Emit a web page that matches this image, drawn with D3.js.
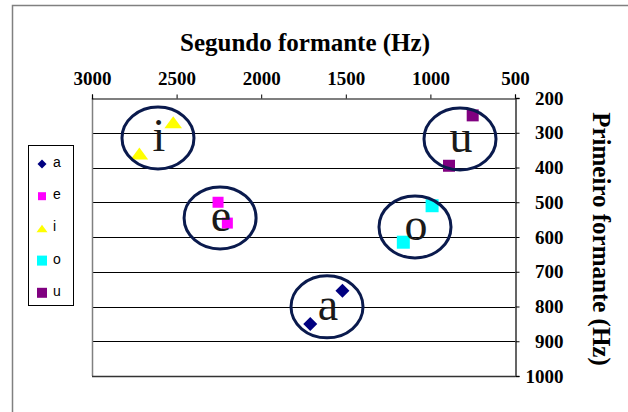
<!DOCTYPE html>
<html>
<head>
<meta charset="utf-8">
<script src="https://cdn.jsdelivr.net/npm/d3@7"></script>
<style>
  html, body { margin: 0; padding: 0; background: #fff; }
  svg { display: block; }
</style>
</head>
<body>
<svg id="chart" width="628" height="412"></svg>
<script>
// Vowel formant measurements (F2 = second formant, F1 = first formant), in Hz
const vowels = ["a", "e", "i", "o", "u"];
const vowelF2 = {
  a: [1710, 1520],
  e: [2255, 2200],
  i: [2720, 2520],
  o: [1160, 990],
  u: [890, 750]
};
const vowelF1 = {
  a: [850, 755],
  e: [500, 560],
  i: [360, 270],
  o: [615, 510],
  u: [395, 250]
};

// Ellipse annotations grouping each vowel's points (centre in Hz)
const groupF2 = [1611, 2243, 2610, 1091, 825];
const groupF1 = [801, 545, 315, 571, 318];
const groupLabel = ["a", "e", "i", "o", "u"];

const f2Ticks = [3000, 2500, 2000, 1500, 1000, 500];
const f1Ticks = [200, 300, 400, 500, 600, 700, 800, 900, 1000];

const colors = { a: "#000080", e: "#ff00ff", i: "#ffff00", o: "#00ffff", u: "#800080" };

// marker shapes: diamond = rotated square, flat triangle, plain squares
function marker(kind, s) {
  const h = s / 2;
  if (kind === "diamond") return `M0,${-h}L${h},0L0,${h}L${-h},0Z`;
  if (kind === "triangle") return `M0,${-h * 0.75}L${h * 1.1},${h * 0.75}L${-h * 1.1},${h * 0.75}Z`;
  return `M${-h},${-h}H${h}V${h}H${-h}Z`;
}
const kinds = { a: "diamond", e: "square", i: "triangle", o: "square", u: "square" };
const sizes = { a: 14, e: 11, i: 16, o: 13, u: 12 };
const legendSizes = { a: 9, e: 8, i: 10, o: 10, u: 10 };

const svg = d3.select("#chart");
const serif = "'Liberation Serif', 'Times New Roman', serif";
const sans = "'Liberation Sans', Arial, sans-serif";

// outer chart frame
svg.append("rect")
  .attr("x", 12.5).attr("y", 5.5)
  .attr("width", 640).attr("height", 440)
  .attr("fill", "none").attr("stroke", "#808080").attr("stroke-width", 1.5);

const plot = { left: 92, right: 515, top: 98, bottom: 376 };

const x = d3.scaleLinear().domain([3000, 500]).range([plot.left, plot.right]);
const y = d3.scaleLinear().domain([200, 1000]).range([plot.top, plot.bottom]);

// horizontal gridlines
svg.append("g")
  .selectAll("line")
  .data(f1Ticks.filter(v => v > 200 && v < 1000))
  .join("line")
  .attr("x1", plot.left).attr("x2", plot.right)
  .attr("y1", d => Math.round(y(d)) + 0.5).attr("y2", d => Math.round(y(d)) + 0.5)
  .attr("stroke", "#000").attr("stroke-width", 1);

// plot area left and bottom borders
svg.append("line")
  .attr("x1", plot.left + 0.5).attr("x2", plot.left + 0.5)
  .attr("y1", plot.top).attr("y2", plot.bottom)
  .attr("stroke", "#808080").attr("stroke-width", 1.5);
svg.append("line")
  .attr("x1", plot.left).attr("x2", plot.right)
  .attr("y1", plot.bottom + 0.5).attr("y2", plot.bottom + 0.5)
  .attr("stroke", "#333").attr("stroke-width", 1.5);

// top axis: second formant
const xAxis = d3.axisTop(x).tickValues(f2Ticks).tickSize(4).tickPadding(10).tickFormat(d3.format("d"));
const gx = svg.append("g").attr("transform", `translate(0,${plot.top + 0.5})`).call(xAxis);
gx.select(".domain").attr("stroke", "#000").attr("stroke-width", 1.2);
gx.selectAll(".tick line").attr("stroke", "#000");
gx.selectAll("text")
  .attr("font-family", serif).attr("font-weight", "bold").attr("font-size", 19).attr("fill", "#000");

// right axis: first formant
const yAxis = d3.axisRight(y).tickValues(f1Ticks).tickSize(4).tickPadding(0).tickFormat(d3.format("d"));
const gy = svg.append("g").attr("transform", `translate(${plot.right + 0.5},0)`).call(yAxis);
gy.select(".domain").attr("stroke", "#333").attr("stroke-width", 1.5);
gy.selectAll(".tick line").attr("stroke", "#000");
gy.selectAll("text")
  .attr("x", 48).attr("text-anchor", "end")
  .attr("font-family", serif).attr("font-weight", "bold").attr("font-size", 19).attr("fill", "#000");

// axis titles
svg.append("text")
  .attr("x", 305).attr("y", 51)
  .attr("text-anchor", "middle")
  .attr("font-family", serif).attr("font-weight", "bold").attr("font-size", 25)
  .text("Segundo formante (Hz)");
svg.append("text")
  .attr("transform", "translate(593,239) rotate(90)")
  .attr("text-anchor", "middle")
  .attr("font-family", serif).attr("font-weight", "bold").attr("font-size", 25)
  .text("Primeiro formante (Hz)");

// data points
vowels.forEach(v => {
  svg.append("g")
    .selectAll("path")
    .data(d3.zip(vowelF2[v], vowelF1[v]))
    .join("path")
    .attr("transform", d => `translate(${x(d[0])},${y(d[1])})`)
    .attr("d", marker(kinds[v], sizes[v]))
    .attr("fill", colors[v]);
});

// vowel letters and ellipses
const groups = d3.range(groupLabel.length).map(i => ({ f2: groupF2[i], f1: groupF1[i], label: groupLabel[i] }));
svg.append("g")
  .selectAll("text")
  .data(groups)
  .join("text")
  .attr("x", d => x(d.f2) + 1)
  .attr("y", d => y(d.f1) + 13)
  .attr("text-anchor", "middle")
  .attr("font-family", serif).attr("font-size", 46)
  .attr("fill", "#1a1a1a")
  .text(d => d.label);
svg.append("g")
  .selectAll("ellipse")
  .data(groups)
  .join("ellipse")
  .attr("cx", d => x(d.f2)).attr("cy", d => y(d.f1))
  .attr("rx", 36).attr("ry", 31)
  .attr("fill", "none").attr("stroke", "#0a1a4d").attr("stroke-width", 3);

// legend
const legend = svg.append("g");
legend.append("rect")
  .attr("x", 28.5).attr("y", 145.5).attr("width", 45).attr("height", 160)
  .attr("fill", "#fff").attr("stroke", "#000").attr("stroke-width", 1);
const items = legend.selectAll("g.item")
  .data(vowels)
  .join("g")
  .attr("class", "item")
  .attr("transform", (d, i) => `translate(0,${163 + i * 32.2})`);
items.append("path")
  .attr("transform", "translate(42,1)")
  .attr("d", d => marker(kinds[d], legendSizes[d]))
  .attr("fill", d => colors[d]);
items.append("text")
  .attr("x", 53).attr("y", 4)
  .attr("font-family", sans).attr("font-size", 14).attr("fill", "#000")
  .text(d => d);
</script>
</body>
</html>
